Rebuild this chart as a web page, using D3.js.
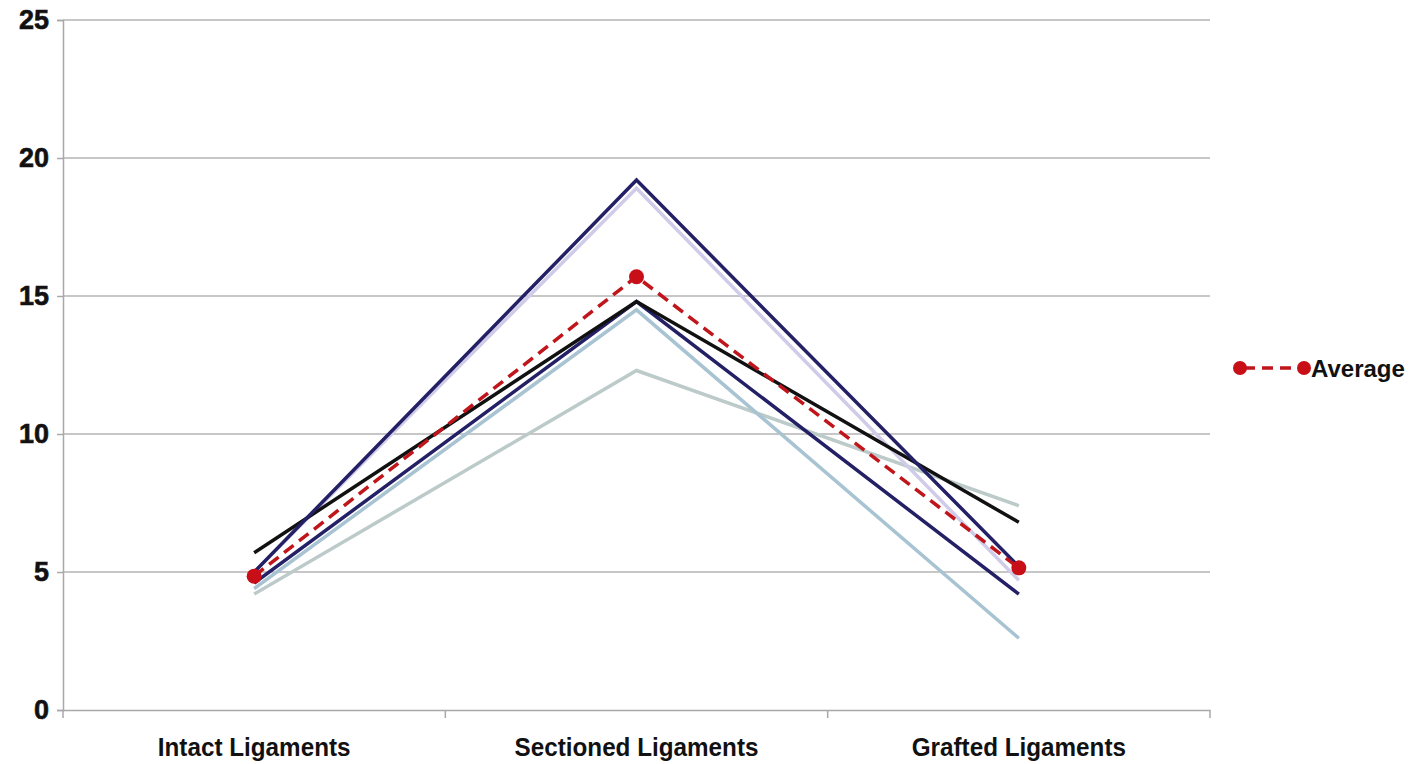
<!DOCTYPE html>
<html><head><meta charset="utf-8">
<script src="https://cdn.jsdelivr.net/npm/d3@7"></script>
<style>body{margin:0;background:#fff}svg{display:block}</style>
</head><body><svg id="c" width="1427" height="764"></svg>
<script>
const categories = ["Intact Ligaments","Sectioned Ligaments","Grafted Ligaments"];
const yTicks = [0,5,10,15,20,25];
const seriesNames = ["S1","S2","S3","S4","S5","S6"];
const s1 = [5.0, 19.2, 5.2];
const s2 = [5.0, 18.9, 4.7];
const s3 = [5.7, 14.8, 6.8];
const s4 = [4.6, 14.8, 4.2];
const s5 = [4.4, 14.5, 2.6];
const s6 = [4.2, 12.3, 7.4];
const average = [4.85, 15.7, 5.15];
const seriesColors = ["#232066","#cfcbe8","#111111","#232066","#a8c3d2","#bccaca"];

const svg = d3.select("#c");
const L=63,R=1210,T=20,B=710;
const x = d3.scaleBand().domain(categories).range([L,R]);
const xc = c => x(c)+x.bandwidth()/2;
const y = d3.scaleLinear().domain([0,25]).range([B,T]);

// gridlines
svg.append("g").selectAll("line").data(yTicks.filter(t=>t>0)).join("line")
  .attr("x1",L).attr("x2",R).attr("y1",d=>y(d)).attr("y2",d=>y(d))
  .attr("stroke","#b5b5b5").attr("stroke-width",1.5);

// y axis
const ya = svg.append("g").attr("transform",`translate(${L},0)`)
  .call(d3.axisLeft(y).tickValues(yTicks).tickSize(6).tickPadding(8));
ya.select(".domain").attr("stroke","#a8a8a8").attr("stroke-width",1.5);
ya.selectAll(".tick line").attr("stroke","#a8a8a8").attr("stroke-width",1.5);
ya.selectAll("text").attr("font-family","Liberation Sans, Arial, sans-serif")
  .attr("font-weight","bold").attr("font-size",27).attr("fill","#111")
  .attr("stroke","#111").attr("stroke-width",0.6);

// x axis
const xa = svg.append("g").attr("transform",`translate(0,${B})`)
  .call(d3.axisBottom(x).tickSize(0).tickPadding(28));
xa.select(".domain").attr("stroke","#a8a8a8").attr("stroke-width",1.5);
xa.selectAll("text").attr("font-family","Liberation Sans, Arial, sans-serif")
  .attr("font-weight","bold").attr("font-size",25).attr("fill","#111")
  .each(function(){ const w=this.getComputedTextLength(); d3.select(this).attr("textLength",w*0.97).attr("lengthAdjust","spacingAndGlyphs"); });
const bounds=[...categories.map(c=>x(c)), R];
svg.append("g").selectAll("line").data(bounds).join("line")
  .attr("x1",d=>d).attr("x2",d=>d).attr("y1",B).attr("y2",B+8)
  .attr("stroke","#a8a8a8").attr("stroke-width",1.5);

const line = d3.line().x((d,i)=>xc(categories[i])).y(d=>y(d));
const allSeries=[s6,s5,s2,s4,s3,s1];
const cols=[seriesColors[5],seriesColors[4],seriesColors[1],seriesColors[3],seriesColors[2],seriesColors[0]];
allSeries.forEach((s,k)=>{
  svg.append("path").attr("d",line(s)).attr("fill","none")
    .attr("stroke",cols[k]).attr("stroke-width",3.5);
});
svg.append("path").attr("d",line(average)).attr("fill","none")
  .attr("stroke","#c0151b").attr("stroke-width",3.5).attr("stroke-dasharray","12,7");
svg.append("g").selectAll("circle").data(average).join("circle")
  .attr("cx",(d,i)=>xc(categories[i])).attr("cy",d=>y(d)).attr("r",7.5).attr("fill","#c80f17");

// legend
const ly=368;
svg.append("line").attr("x1",1240).attr("x2",1304).attr("y1",ly).attr("y2",ly)
  .attr("stroke","#c0151b").attr("stroke-width",3.5).attr("stroke-dasharray","11,7").attr("stroke-dashoffset",-4);
svg.append("circle").attr("cx",1240).attr("cy",ly).attr("r",7).attr("fill","#c80f17");
svg.append("circle").attr("cx",1304).attr("cy",ly).attr("r",7).attr("fill","#c80f17");
svg.append("text").attr("x",1311).attr("y",ly+9).text("Average")
  .attr("font-family","Liberation Sans, Arial, sans-serif").attr("font-weight","bold")
  .attr("font-size",24).attr("fill","#111");
</script></body></html>
